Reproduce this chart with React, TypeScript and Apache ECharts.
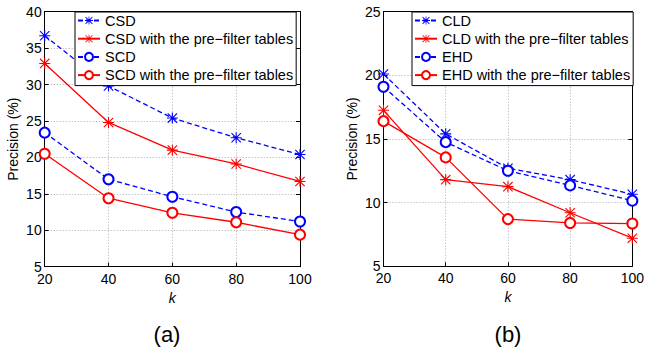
import React, { useEffect, useRef } from "react";
import * as echarts from "echarts";

const kValues = [20, 40, 60, 80, 100];

const csd = [36.7, 29.8, 25.4, 22.7, 20.4];
const csdPre = [32.9, 24.8, 21.0, 19.1, 16.7];
const scd = [23.4, 17.0, 14.6, 12.5, 11.2];
const scdPre = [20.5, 14.4, 12.4, 11.1, 9.4];

const cld = [20.1, 15.4, 12.7, 11.8, 10.65];
const cldPre = [17.25, 11.8, 11.25, 9.2, 7.2];
const ehd = [19.1, 14.75, 12.5, 11.35, 10.15];
const ehdPre = [16.4, 13.55, 8.7, 8.4, 8.35];

const namesA = [
  "CSD",
  "CSD with the pre\u2212filter tables",
  "SCD",
  "SCD with the pre\u2212filter tables",
];
const namesB = [
  "CLD",
  "CLD with the pre\u2212filter tables",
  "EHD",
  "EHD with the pre\u2212filter tables",
];

const FONT = "'Liberation Sans', Arial, Helvetica, sans-serif";
const BLUE = "#0000ff";
const RED = "#ff0000";

const ASTERISK =
  "path://M9,0 H11 V20 H9 Z M0,9 H20 V11 H0 Z " +
  "M2.2,0.8 L19.2,17.8 L17.8,19.2 L0.8,2.2 Z " +
  "M19.2,2.2 L2.2,19.2 L0.8,17.8 L17.8,0.8 Z";

function pairs(vals: number[]) {
  return kValues.map((k, i) => [k, vals[i]]);
}

function makeSeries(
  name: string,
  vals: number[],
  idx: number,
  color: string,
  dashed: boolean,
  star: boolean
) {
  return {
    type: "line",
    name,
    xAxisIndex: idx,
    yAxisIndex: idx,
    data: pairs(vals),
    symbol: star ? ASTERISK : "emptyCircle",
    symbolSize: star ? 11 : 10,
    showAllSymbol: true,
    lineStyle: { color, width: 1.3, type: dashed ? [5, 3] : "solid" },
    itemStyle: star
      ? { color, borderWidth: 0 }
      : { color, borderColor: color, borderWidth: 1.2 },
    emphasis: { disabled: true },
    z: 3,
  };
}

function xAxisFor(gridIndex: number, top: boolean) {
  return {
    type: "value",
    gridIndex,
    position: top ? "top" : "bottom",
    min: 20,
    max: 100,
    interval: 20,
    name: top ? "" : "k",
    nameLocation: "middle",
    nameGap: 13,
    nameTextStyle: { fontFamily: FONT, fontSize: 14, fontStyle: "italic", color: "#000" },
    axisLine: { show: true, onZero: false, lineStyle: { color: "#000", width: 1 } },
    axisTick: { show: true, inside: true, length: 4, lineStyle: { color: "#000" } },
    axisLabel: {
      show: !top,
      margin: 5,
      fontFamily: FONT,
      fontSize: 14,
      color: "#000",
    },
    splitLine: {
      show: !top,
      lineStyle: { color: "#aaaaaa", type: [1, 2], width: 1 },
    },
  };
}

function yAxisFor(gridIndex: number, right: boolean, max: number) {
  return {
    type: "value",
    gridIndex,
    position: right ? "right" : "left",
    min: 5,
    max,
    interval: 5,
    name: right ? "" : "Precision (%)",
    nameLocation: "middle",
    nameGap: 25,
    nameTextStyle: { fontFamily: FONT, fontSize: 14, color: "#000" },
    axisLine: { show: true, onZero: false, lineStyle: { color: "#000", width: 1 } },
    axisTick: { show: true, inside: true, length: 4, lineStyle: { color: "#000" } },
    axisLabel: {
      show: !right,
      margin: 3,
      fontFamily: FONT,
      fontSize: 14,
      color: "#000",
    },
    splitLine: {
      show: !right,
      lineStyle: { color: "#aaaaaa", type: [1, 2], width: 1 },
    },
  };
}

function legendFor(names: string[], left: number) {
  return {
    orient: "vertical",
    left,
    top: 12,
    data: names,
    itemWidth: 22,
    itemHeight: 10,
    itemGap: 3.2,
    padding: [1, 3, 3, 2],
    backgroundColor: "#fff",
    borderColor: "#000",
    borderWidth: 1,
    borderRadius: 0,
    selectedMode: false,
    textStyle: { fontFamily: FONT, fontSize: 14.5, color: "#000", lineHeight: 14.5 },
    z: 10,
  };
}

function caption(text: string, x: number) {
  return {
    type: "text",
    x,
    y: 334,
    style: {
      text,
      textAlign: "center",
      textVerticalAlign: "middle",
      align: "center",
      verticalAlign: "middle",
      fontFamily: FONT,
      fontSize: 22,
      fill: "#000",
    },
  };
}

export default function App() {
  const ref = useRef<HTMLDivElement>(null);

  useEffect(() => {
    if (!ref.current) return;
    const chart = echarts.init(ref.current, undefined, { renderer: "svg" });
    chart.setOption({
      animation: false,
      backgroundColor: "#fff",
      grid: [
        { left: 44.7, right: 347, top: 11.7, bottom: 87.3 },
        { left: 383.5, right: 8.5, top: 11.7, bottom: 87.8 },
      ],
      xAxis: [xAxisFor(0, false), xAxisFor(1, false), xAxisFor(0, true), xAxisFor(1, true)],
      yAxis: [
        yAxisFor(0, false, 40),
        yAxisFor(1, false, 25),
        yAxisFor(0, true, 40),
        yAxisFor(1, true, 25),
      ],
      legend: [legendFor(namesA, 75), legendFor(namesB, 412)],
      series: [
        makeSeries(namesA[0], csd, 0, BLUE, true, true),
        makeSeries(namesA[1], csdPre, 0, RED, false, true),
        makeSeries(namesA[2], scd, 0, BLUE, true, false),
        makeSeries(namesA[3], scdPre, 0, RED, false, false),
        makeSeries(namesB[0], cld, 1, BLUE, true, true),
        makeSeries(namesB[1], cldPre, 1, RED, false, true),
        makeSeries(namesB[2], ehd, 1, BLUE, true, false),
        makeSeries(namesB[3], ehdPre, 1, RED, false, false),
      ],
      graphic: [caption("(a)", 167), caption("(b)", 508)],
    });
    return () => chart.dispose();
  }, []);

  return (
    <div
      ref={ref}
      style={{ position: "fixed", left: 0, top: 0, width: 647, height: 354 }}
    />
  );
}
